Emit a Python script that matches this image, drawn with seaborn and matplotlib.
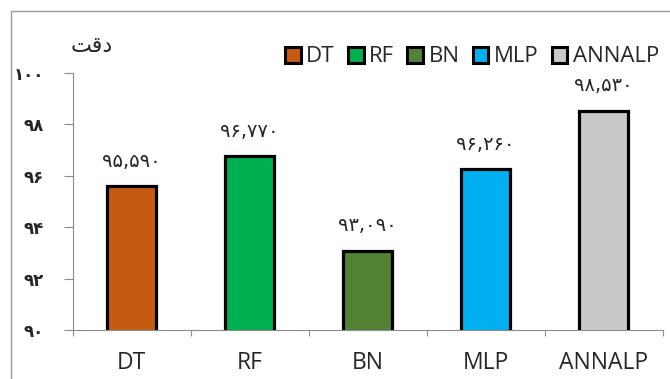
import matplotlib
matplotlib.use("Agg")
import matplotlib.pyplot as plt
from matplotlib.patches import Patch, Rectangle
import seaborn as sns

MODELS = ["DT", "RF", "BN", "MLP", "ANNALP"]
ACCURACY = [95.59, 96.77, 93.09, 96.26, 98.53]
VALUE_LABELS = ["۹۵,۵۹۰", "۹۶,۷۷۰", "۹۳,۰۹۰", "۹۶,۲۶۰", "۹۸,۵۳۰"]
Y_TICKS = [90, 92, 94, 96, 98, 100]
Y_TICK_LABELS = ["۹۰", "۹۲", "۹۴", "۹۶", "۹۸", "۱۰۰"]
COLORS = ["#C55A11", "#00B050", "#548235", "#00B0F0", "#C9C9C9"]
Y_LABEL = "\uFE96\uFED7\uFEA9"  # "دقت" in visual order

sns.set_theme(style="white")
plt.rcParams["font.family"] = ["Open Sans", "DejaVu Sans"]

fig = plt.figure(figsize=(6.7, 3.79), dpi=100)
ax = fig.add_axes([0.1085, 0.1293, 0.8805, 0.6781])

sns.barplot(x=MODELS, y=ACCURACY, hue=MODELS, palette=COLORS, width=0.42,
            saturation=1, edgecolor="black", linewidth=2.3, dodge=False,
            legend=False, ax=ax)

ax.set_ylim(90, 100)
ax.set_xlim(-0.5, len(MODELS) - 0.5)
ax.set_yticks(Y_TICKS)
ax.set_yticklabels(Y_TICK_LABELS, fontsize=12, fontweight="bold",
                   family="DejaVu Sans")
ax.set_xlabel("")
ax.set_ylabel("")
ax.tick_params(axis="x", length=0, pad=15, labelsize=16.5)
ax.tick_params(axis="y", length=6.5, width=0.8, color="#8c8c8c", pad=14,
               left=True)
# category boundary ticks on the x axis
ax.set_xticks([i - 0.5 for i in range(len(MODELS) + 1)], minor=True)
ax.tick_params(axis="x", which="minor", length=4, width=0.8, color="#8c8c8c",
               bottom=True)

for side in ["top", "right"]:
    ax.spines[side].set_visible(False)
for side in ["left", "bottom"]:
    ax.spines[side].set_color("#8c8c8c")
    ax.spines[side].set_linewidth(0.8)

for i, (v, lab) in enumerate(zip(ACCURACY, VALUE_LABELS)):
    ax.annotate(lab, (i, v), xytext=(0, 11), textcoords="offset points",
                ha="center", va="bottom", fontsize=14, family="DejaVu Sans")

fig.text(92 / 670, 1 - 46 / 379, Y_LABEL, ha="center", va="center",
         fontsize=16, family="DejaVu Sans")

handles = [Patch(facecolor=c, edgecolor="black", linewidth=2.2) for c in COLORS]
fig.legend(handles, MODELS, loc="center left",
           bbox_to_anchor=(285 / 670, 1 - 57 / 379),
           ncol=5, frameon=False, fontsize=16, handlelength=0.7,
           handleheight=0.7, handletextpad=0.25, columnspacing=0.6,
           borderaxespad=0, borderpad=0)

# outer chart frame
fig.patches.append(Rectangle((11 / 670, -0.1), 1.2, 1 - 11 / 379 + 0.1,
                             transform=fig.transFigure, fill=False,
                             edgecolor="#9a9a9a", linewidth=1.0))

fig.savefig("out.png", dpi=100)
